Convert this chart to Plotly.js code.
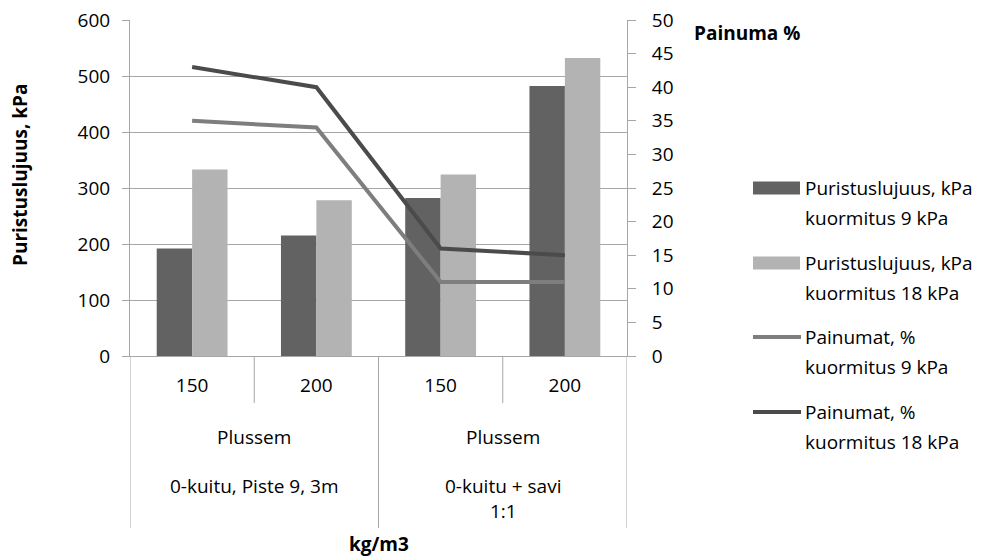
<!DOCTYPE html>
<html>
<head>
<meta charset="utf-8">
<script src="https://cdn.plot.ly/plotly-3.0.1.min.js"></script>
<style>html,body{margin:0;padding:0;background:#fff;}#chart{width:996px;height:559px;}</style>
</head>
<body>
<div id="chart"></div>
<script>
// ---- data ----
const densities = ['150', '200', '150', '200'];
const groupTop = ['Plussem', 'Plussem'];
const groupBottom = ['0-kuitu, Piste 9, 3m', '0-kuitu + savi<br>1:1'];
const strength9 = [192, 215, 282, 482];
const strength18 = [333, 278, 324, 532];
const settle9 = [35, 34, 11, 11];
const settle18 = [43, 40, 16, 15];
const seriesLine1 = ['Puristuslujuus, kPa', 'Puristuslujuus, kPa', 'Painumat, %', 'Painumat, %'];
const seriesLine2 = ['kuormitus 9 kPa', 'kuormitus 18 kPa', 'kuormitus 9 kPa', 'kuormitus 18 kPa'];
const leftTitle = 'Puristuslujuus, kPa';
const rightTitle = 'Painuma %';
const xTitle = 'kg/m3';

const xs = densities.map((d, i) => i);
const C_DARK = '#626262', C_LIGHT = '#b3b3b3', C_L9 = '#7e7e7e', C_L18 = '#4b4b4b';
const FONT = '"Open Sans", Lato, sans-serif';
const FS = 19;
const FSB = 19;

const traces = [
  {type: 'bar', x: xs, y: strength9, marker: {color: C_DARK}, name: seriesLine1[0], hoverinfo: 'y'},
  {type: 'bar', x: xs, y: strength18, marker: {color: C_LIGHT}, name: seriesLine1[1], hoverinfo: 'y'},
  {type: 'scatter', mode: 'lines', x: xs, y: settle9, yaxis: 'y2', line: {color: C_L9, width: 4}, name: seriesLine1[2]},
  {type: 'scatter', mode: 'lines', x: xs, y: settle18, yaxis: 'y2', line: {color: C_L18, width: 4}, name: seriesLine1[3]}
];

// plot area in px
const L = 130, R = 627, T = 20, B = 356, W = 996, H = 559;
const px2x = p => (p - L) / (R - L);
const py2y = p => (B - p) / (B - T);

const shapes = [];
const annotations = [];
const GRID = '#a6a6a6';
// category separators below axis
for (let i = 0; i <= densities.length; i++) {
  const long = (i % 2 === 0);
  shapes.push({type: 'line', xref: 'x', yref: 'paper', x0: i - 0.5, x1: i - 0.5,
    y0: 0, y1: py2y(long ? 528 : 403), line: {color: GRID, width: 1}});
}
// group labels
groupTop.forEach((g, k) => {
  annotations.push({xref: 'x', yref: 'paper', x: 2 * k + 0.5, y: py2y(437), text: g,
    showarrow: false, xanchor: 'center', yanchor: 'middle', font: {family: FONT, size: FS, color: '#000'}});
});
groupBottom.forEach((g, k) => {
  annotations.push({xref: 'x', yref: 'paper', x: 2 * k + 0.5, y: py2y(471), text: g,
    showarrow: false, xanchor: 'center', yanchor: 'top', font: {family: FONT, size: FS, color: '#000'}});
});
// titles
annotations.push({xref: 'x', yref: 'paper', x: 1.5, y: py2y(544), text: '<b>' + xTitle + '</b>',
  showarrow: false, xanchor: 'center', yanchor: 'middle', font: {family: FONT, size: FSB, color: '#000'}});
annotations.push({xref: 'paper', yref: 'paper', x: px2x(20), y: py2y(175), text: '<b>' + leftTitle + '</b>',
  textangle: -90, showarrow: false, xanchor: 'center', yanchor: 'middle', font: {family: FONT, size: FSB, color: '#000'}});
annotations.push({xref: 'paper', yref: 'paper', x: px2x(692), y: py2y(33), text: '<b>' + rightTitle + '</b>',
  showarrow: false, xanchor: 'left', yanchor: 'middle', font: {family: FONT, size: FSB, color: '#000'}});

// manual legend
const legY = [188, 263, 337, 412];
const legColors = [C_DARK, C_LIGHT, C_L9, C_L18];
legY.forEach((yy, i) => {
  if (i < 2) {
    shapes.push({type: 'rect', xref: 'paper', yref: 'paper', x0: px2x(753), x1: px2x(800),
      y0: py2y(yy + 6.5), y1: py2y(yy - 6.5), line: {width: 0}, fillcolor: legColors[i]});
  } else {
    shapes.push({type: 'line', xref: 'paper', yref: 'paper', x0: px2x(753), x1: px2x(801),
      y0: py2y(yy), y1: py2y(yy), line: {width: 4, color: legColors[i]}});
  }
  annotations.push({xref: 'paper', yref: 'paper', x: px2x(803), y: py2y(yy), text: seriesLine1[i],
    showarrow: false, xanchor: 'left', yanchor: 'middle', font: {family: FONT, size: FS, color: '#000'}});
  annotations.push({xref: 'paper', yref: 'paper', x: px2x(803), y: py2y(yy + 30), text: seriesLine2[i],
    showarrow: false, xanchor: 'left', yanchor: 'middle', font: {family: FONT, size: FS, color: '#000'}});
});

const layout = {
  width: W, height: H,
  margin: {l: L, r: W - R, t: T, b: H - B, pad: 0},
  paper_bgcolor: '#fff', plot_bgcolor: '#fff',
  showlegend: false,
  barmode: 'group', bargap: 0.43, bargroupgap: 0,
  font: {family: FONT, size: FS, color: '#000'},
  xaxis: {range: [-0.5, densities.length - 0.5], tickmode: 'array', tickvals: xs, ticktext: densities,
    showgrid: false, zeroline: false, showline: true, linecolor: GRID, linewidth: 1,
    ticks: '', ticklabelstandoff: 12, tickfont: {family: FONT, size: FS, color: '#000'}, fixedrange: true},
  yaxis: {range: [0, 600], dtick: 100, showgrid: true, gridcolor: GRID, gridwidth: 1, zeroline: false,
    showline: true, linecolor: GRID, ticks: 'outside', ticklen: 7, tickcolor: GRID,
    ticklabelstandoff: 8, tickfont: {family: FONT, size: FS, color: '#000'}},
  yaxis2: {range: [0, 50], dtick: 5, overlaying: 'y', side: 'right', showgrid: false, zeroline: false,
    showline: true, linecolor: GRID, ticks: 'outside', ticklen: 8, tickcolor: GRID,
    ticklabelstandoff: 12, tickfont: {family: FONT, size: FS, color: '#000'}},
  shapes: shapes,
  annotations: annotations
};

Plotly.newPlot('chart', traces, layout, {displayModeBar: false, staticPlot: true});
</script>
</body>
</html>
